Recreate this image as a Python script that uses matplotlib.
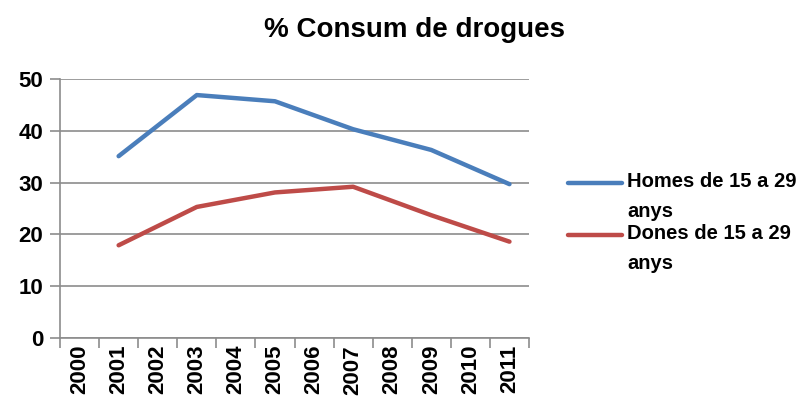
import numpy as np
import matplotlib
matplotlib.use("Agg")
import matplotlib.pyplot as plt
from matplotlib.lines import Line2D

# categories and data (values only at odd years)
years = [str(y) for y in range(2000, 2012)]
data_years = ["2001", "2003", "2005", "2007", "2009", "2011"]
homes = [35.1, 46.9, 45.7, 40.3, 36.3, 29.7]
dones = [17.9, 25.3, 28.1, 29.2, 23.7, 18.6]
labels = ["Homes de 15 a 29\nanys", "Dones de 15 a 29\nanys"]
colors = ["#4a7ebb", "#be4b48"]
title = "% Consum de drogues"

font = ["Liberation Sans Narrow", "Liberation Sans", "DejaVu Sans"]
plt.rcParams['font.family'] = font

fig = plt.figure(figsize=(8.11, 4.05), dpi=100)
ax = fig.add_axes([60/811, 1-338/405, 469/811, (338-79)/405])

xs = [years.index(y) + 0.5 for y in data_years]
for vals, col in zip([homes, dones], colors):
    ax.plot(xs, vals, color=col, lw=3.2, solid_capstyle="round", solid_joinstyle="round")

ax.set_xlim(0, len(years))
ax.set_ylim(0, 50)
ax.set_yticks(range(0, 51, 10))
ax.yaxis.grid(True, color="#8c8c8c", lw=1.2)
ax.set_axisbelow(True)
ax.set_xticks(np.arange(0, len(years) + 1))
ax.set_xticklabels([])
ax.set_xticks(np.arange(len(years)) + 0.5, minor=True)
ax.set_xticklabels(years, minor=True, rotation=90, fontsize=16, fontweight="bold")
ax.tick_params(axis="x", which="minor", length=0, pad=5)
ax.tick_params(axis="x", which="major", length=7, width=1.2, color="#8c8c8c", direction="out")
ax.tick_params(axis="y", length=7, width=1.2, color="#8c8c8c", labelsize=16, pad=5)
for t in ax.get_yticklabels():
    t.set_fontweight("bold")
for s in ["top", "right"]:
    ax.spines[s].set_visible(False)
for s in ["left", "bottom"]:
    ax.spines[s].set_color("#8c8c8c")
    ax.spines[s].set_linewidth(1.2)

fig.text(415/811, 1-30/405, title, ha="center", va="center", fontsize=20, fontweight="bold")

# legend drawn by hand so the handle sits on the first text line
for i, (lab, col) in enumerate(zip(labels, colors)):
    y = 1 - (183 + 52*i)/405
    fig.add_artist(Line2D([568/811, 622/811], [y, y], color=col, lw=3.2,
                          solid_capstyle="round", transform=fig.transFigure))
    fig.text(627/811, y + 11/405, lab, ha="left", va="top", fontsize=14.5,
             fontweight="bold", linespacing=1.75)

fig.savefig("out.png", dpi=100)
